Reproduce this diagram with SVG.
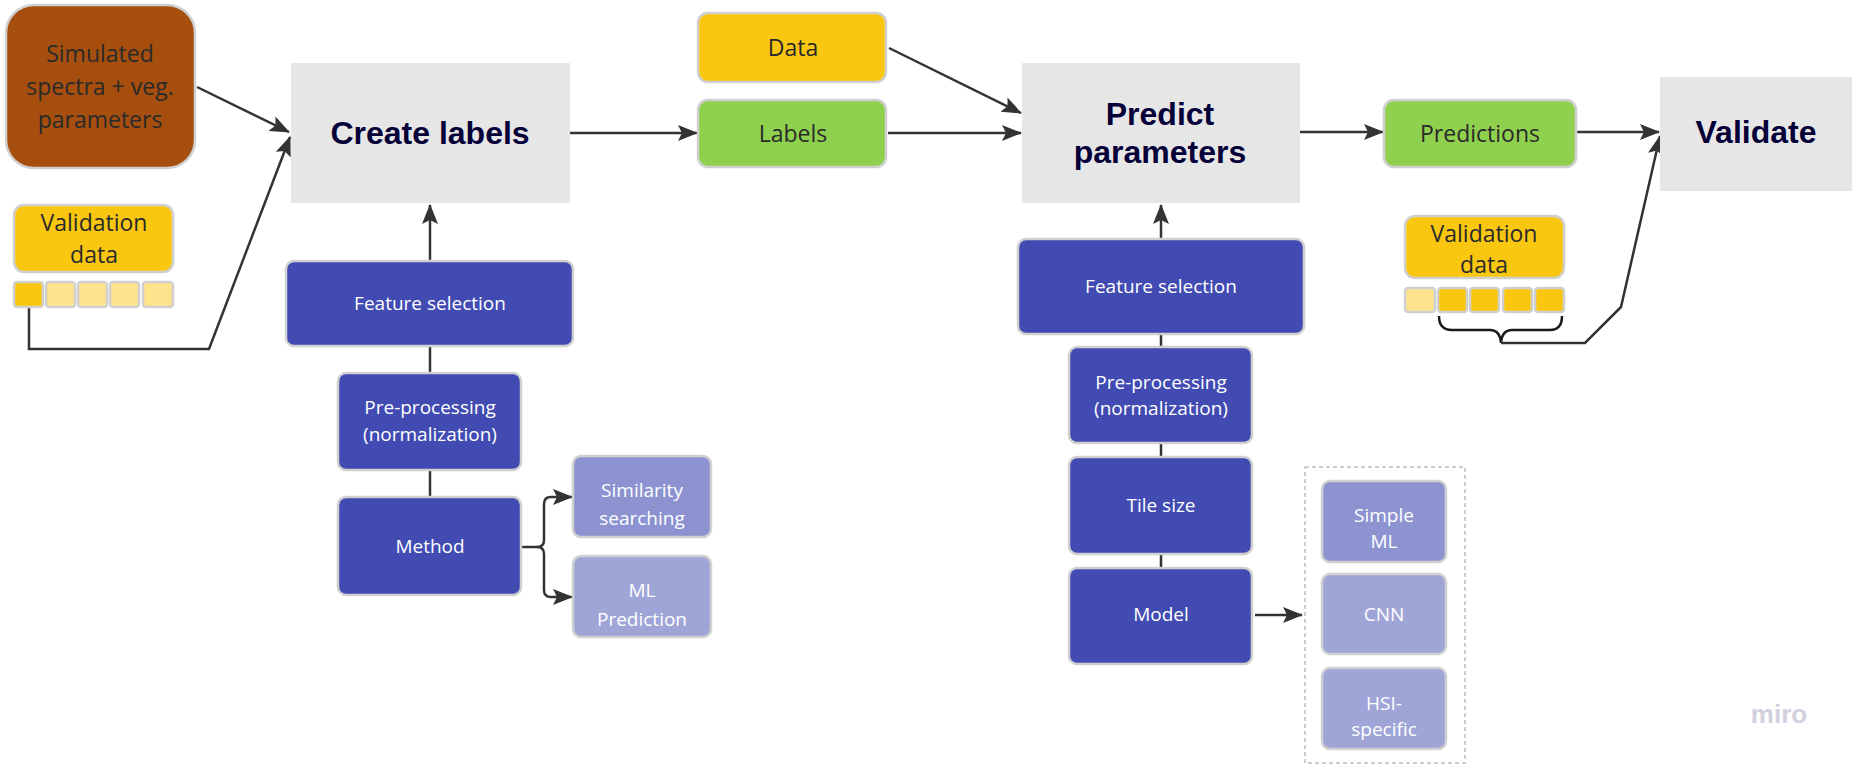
<svg xmlns="http://www.w3.org/2000/svg" width="1852" height="765" viewBox="0 0 1852 765">
<style>
.lt{font-family:"Open Sans","Noto Sans",sans-serif;font-size:23px;fill:#2a2a2a;text-anchor:middle}
.wt{font-family:"Open Sans","Noto Sans",sans-serif;font-size:19px;fill:#ffffff;text-anchor:middle}
.bt{font-family:"Liberation Sans",Arial,sans-serif;font-size:32px;font-weight:bold;fill:#050038;text-anchor:middle}
.gray{fill:#e6e6e6}
.box{stroke:#d0d0d0;stroke-width:2.5}
.dk{fill:#414bb2}
.m6{fill:#8d93d1}
.m5{fill:#a0a5d8}
.yl{fill:#fac710}
.ly{fill:#fde38c}
.gr{fill:#8fd14f}
.cn{fill:none;stroke:#333333;stroke-width:2.5}
</style>
<defs>
<marker id="arr" viewBox="0 0 20 16" refX="19" refY="8" markerWidth="20" markerHeight="16" orient="auto" markerUnits="userSpaceOnUse"><path d="M0,0 L20,8 L0,16 L4,8 z" fill="#333333"/></marker>
</defs>

<g id="connectors">
<path class="cn" d="M197,87 L289,132" marker-end="url(#arr)"/>
<path class="cn" d="M29,307 V349 H209 L290,137" marker-end="url(#arr)"/>
<path class="cn" d="M430,261 V205" marker-end="url(#arr)"/>
<path class="cn" d="M430,346 V373 M430,470 V497"/>
<path class="cn" d="M522,547 H537 Q544,547 544,540 V504 Q544,497 551,497 H572" marker-end="url(#arr)"/>
<path class="cn" d="M537,547 Q544,547 544,554 V590 Q544,597 551,597 H572" marker-end="url(#arr)"/>
<path class="cn" d="M570,133 H697" marker-end="url(#arr)"/>
<path class="cn" d="M889,48 L1021,113" marker-end="url(#arr)"/>
<path class="cn" d="M888,133 H1021" marker-end="url(#arr)"/>
<path class="cn" d="M1161,239 V205" marker-end="url(#arr)"/>
<path class="cn" d="M1161,334 V347 M1161,443 V457 M1161,554 V568"/>
<path class="cn" d="M1255,615 H1302" marker-end="url(#arr)"/>
<path class="cn" d="M1300,132 H1383" marker-end="url(#arr)"/>
<path class="cn" d="M1577,132 H1659" marker-end="url(#arr)"/>
<path class="cn" style="stroke:#1a1a1a" d="M1439,316 Q1439,330 1452,330 H1490 Q1500,330 1501,343 Q1502,330 1512,330 H1550 Q1562,330 1562,316"/>
<path class="cn" d="M1501,343 H1585 L1621,307 L1660,136" marker-end="url(#arr)"/>
</g>

<g id="simulated">
<rect class="box" x="6" y="5" width="189" height="163" rx="28" fill="#a64e0e"/>
<text class="lt" x="100" y="62">Simulated</text>
<text class="lt" x="100" y="95">spectra + veg.</text>
<text class="lt" x="100" y="128">parameters</text>
</g>

<g id="validation-left">
<rect class="box yl" x="14" y="205" width="159" height="67" rx="10"/>
<text class="lt" x="94" y="231">Validation</text>
<text class="lt" x="94" y="263">data</text>
<rect class="box yl" x="14" y="282" width="29" height="25" rx="3"/>
<rect class="box ly" x="46" y="282" width="29" height="25" rx="3"/>
<rect class="box ly" x="78" y="282" width="29" height="25" rx="3"/>
<rect class="box ly" x="110" y="282" width="29" height="25" rx="3"/>
<rect class="box ly" x="143" y="282" width="30" height="25" rx="3"/>
</g>

<g id="create-labels">
<rect class="gray" x="291" y="63" width="279" height="140"/>
<text class="bt" x="430" y="144">Create labels</text>
</g>

<g id="fs-left">
<rect class="box dk" x="286" y="261" width="287" height="85" rx="8"/>
<text class="wt" x="430" y="310">Feature selection</text>
</g>
<g id="pp-left">
<rect class="box dk" x="338" y="373" width="183" height="97" rx="8"/>
<text class="wt" x="430" y="414">Pre-processing</text>
<text class="wt" x="430" y="441">(normalization)</text>
</g>
<g id="method">
<rect class="box dk" x="338" y="497" width="183" height="98" rx="8"/>
<text class="wt" x="430" y="553">Method</text>
</g>
<g id="similarity">
<rect class="box m6" x="573" y="456" width="138" height="81" rx="8"/>
<text class="wt" x="642" y="497">Similarity</text>
<text class="wt" x="642" y="525">searching</text>
</g>
<g id="ml-prediction">
<rect class="box m5" x="573" y="556" width="138" height="81" rx="8"/>
<text class="wt" x="642" y="597">ML</text>
<text class="wt" x="642" y="626">Prediction</text>
</g>

<g id="data">
<rect class="box yl" x="698" y="13" width="188" height="69" rx="10"/>
<text class="lt" x="793" y="56">Data</text>
</g>
<g id="labels">
<rect class="box gr" x="698" y="100" width="188" height="67" rx="10"/>
<text class="lt" x="793" y="142">Labels</text>
</g>

<g id="predict">
<rect class="gray" x="1022" y="63" width="278" height="140"/>
<text class="bt" x="1160" y="125">Predict</text>
<text class="bt" x="1160" y="163">parameters</text>
</g>

<g id="fs-right">
<rect class="box dk" x="1018" y="239" width="286" height="95" rx="8"/>
<text class="wt" x="1161" y="293">Feature selection</text>
</g>
<g id="pp-right">
<rect class="box dk" x="1069" y="347" width="183" height="96" rx="8"/>
<text class="wt" x="1161" y="389">Pre-processing</text>
<text class="wt" x="1161" y="415">(normalization)</text>
</g>
<g id="tile-size">
<rect class="box dk" x="1069" y="457" width="183" height="97" rx="8"/>
<text class="wt" x="1161" y="512">Tile size</text>
</g>
<g id="model">
<rect class="box dk" x="1069" y="568" width="183" height="96" rx="8"/>
<text class="wt" x="1161" y="621">Model</text>
</g>

<g id="model-group">
<rect x="1305" y="467" width="160" height="296" fill="none" stroke="#bdbdbd" stroke-width="1.5" stroke-dasharray="4,3"/>
</g>
<g id="simple-ml">
<rect class="box m6" x="1322" y="481" width="124" height="81" rx="8"/>
<text class="wt" x="1384" y="522">Simple</text>
<text class="wt" x="1384" y="548">ML</text>
</g>
<g id="cnn">
<rect class="box m5" x="1322" y="574" width="124" height="80" rx="8"/>
<text class="wt" x="1384" y="621">CNN</text>
</g>
<g id="hsi">
<rect class="box m5" x="1322" y="668" width="124" height="81" rx="8"/>
<text class="wt" x="1384" y="710">HSI-</text>
<text class="wt" x="1384" y="736">specific</text>
</g>

<g id="predictions">
<rect class="box gr" x="1384" y="100" width="192" height="67" rx="10"/>
<text class="lt" x="1480" y="142">Predictions</text>
</g>

<g id="validation-right">
<rect class="box yl" x="1405" y="216" width="159" height="62" rx="10"/>
<text class="lt" x="1484" y="242">Validation</text>
<text class="lt" x="1484" y="273">data</text>
<rect class="box ly" x="1405" y="288" width="30" height="24" rx="3"/>
<rect class="box yl" x="1438" y="288" width="29" height="24" rx="3"/>
<rect class="box yl" x="1470" y="288" width="29" height="24" rx="3"/>
<rect class="box yl" x="1503" y="288" width="29" height="24" rx="3"/>
<rect class="box yl" x="1535" y="288" width="29" height="24" rx="3"/>
</g>

<g id="validate">
<rect class="gray" x="1660" y="77" width="192" height="114"/>
<text class="bt" x="1756" y="143">Validate</text>
</g>

<text x="1779" y="723" font-family="Liberation Sans, Arial, sans-serif" font-size="26" font-weight="bold" fill="#d2d0df" text-anchor="middle">miro</text>
</svg>
